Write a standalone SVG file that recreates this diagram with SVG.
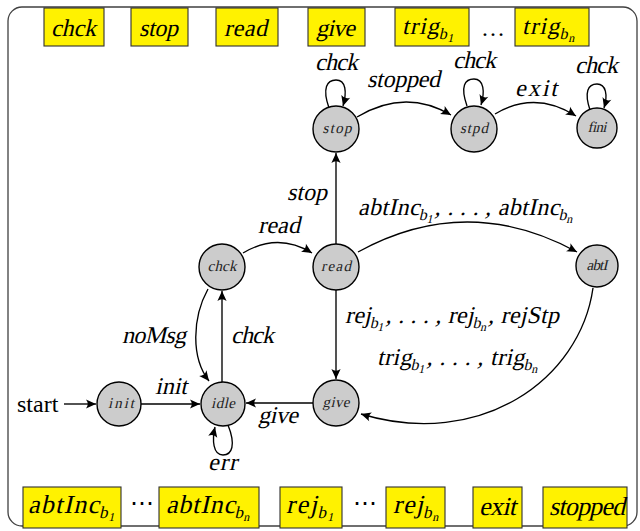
<svg xmlns="http://www.w3.org/2000/svg" width="640" height="531" viewBox="0 0 640 531">
  <style>
    .frame { fill: #ffffff; stroke: #404040; stroke-width: 1.3; }
    .box { fill: #fff200; stroke: #303030; stroke-width: 1.1; }
    .state { fill: #cccccc; stroke: #000000; stroke-width: 1.4; }
    .edge { fill: none; stroke: #000000; stroke-width: 1.35; }
    /* slanted serif labels: upright face sheared by the transform on each label */
    .lbl { font-family: 'Liberation Serif', 'Times New Roman', serif; font-size: 24px; fill: #000000; }
    .blbl { font-family: 'Liberation Serif', 'Times New Roman', serif; font-size: 24px; fill: #000000; }
    .dlbl { font-family: 'Liberation Serif', 'Times New Roman', serif; font-size: 26px; fill: #000000; }
    .nlbl { font-family: 'Liberation Serif', 'Times New Roman', serif; font-size: 15px; fill: #222222; text-anchor: middle; }
    .sub { font-size: 16px; }
    .sub2 { font-size: 12px; }
    .dsub { font-size: 17px; }
  </style>
  <defs>
    <marker id="arrow" markerUnits="userSpaceOnUse" markerWidth="14" markerHeight="12" refX="0" refY="0" viewBox="-11 -6 14 12" orient="auto">
      <path d="M0,0 L-10,-4.6 Q-6.5,0 -10,4.6 Z" fill="#000000"/>
    </marker>
  </defs>

  <!-- outer frame -->
  <rect class="frame" x="8" y="7" width="629" height="519" rx="14" ry="14"/>

  <!-- top message boxes -->
  <g id="top-boxes">
    <rect class="box" x="44" y="8" width="60" height="38"/>
    <text class="blbl" transform="translate(51,36) skewX(-13)" textLength="45" lengthAdjust="spacing">chck</text>
    <rect class="box" x="131" y="8" width="57" height="38"/>
    <text class="blbl" transform="translate(139,36) skewX(-13)" textLength="39" lengthAdjust="spacing">stop</text>
    <rect class="box" x="216" y="8" width="62" height="38"/>
    <text class="blbl" transform="translate(224,36) skewX(-13)" textLength="43" lengthAdjust="spacing">read</text>
    <rect class="box" x="308" y="8" width="57" height="38"/>
    <text class="blbl" transform="translate(316,36) skewX(-13)" textLength="39" lengthAdjust="spacing">give</text>
    <rect class="box" x="395" y="8" width="74" height="38"/>
    <text class="blbl" transform="translate(402,34) skewX(-13)" textLength="53" lengthAdjust="spacing">trig<tspan class="sub" dy="5">b</tspan><tspan class="sub2" dy="3">1</tspan></text>
    <text class="blbl" x="481" y="36">…</text>
    <rect class="box" x="515" y="8" width="74" height="38"/>
    <text class="blbl" transform="translate(522,34) skewX(-13)" textLength="54" lengthAdjust="spacing">trig<tspan class="sub" dy="5">b</tspan><tspan class="sub2" dy="3">n</tspan></text>
  </g>

  <!-- bottom message boxes -->
  <g id="bottom-boxes">
    <rect class="box" x="23" y="487" width="98" height="41"/>
    <text class="dlbl" transform="translate(28,513) skewX(-13)" textLength="88" lengthAdjust="spacing">abtInc<tspan class="dsub" dy="5">b</tspan><tspan class="sub2" dy="3">1</tspan></text>
    <text class="blbl" x="130" y="511">⋯</text>
    <rect class="box" x="159" y="487" width="100" height="41"/>
    <text class="dlbl" transform="translate(166,513) skewX(-13)" textLength="85" lengthAdjust="spacing">abtInc<tspan class="dsub" dy="5">b</tspan><tspan class="sub2" dy="3">n</tspan></text>
    <rect class="box" x="280" y="487" width="62" height="41"/>
    <text class="dlbl" transform="translate(286,513) skewX(-13)" textLength="49" lengthAdjust="spacing">rej<tspan class="dsub" dy="5">b</tspan><tspan class="sub2" dy="3">1</tspan></text>
    <text class="blbl" x="353" y="511">⋯</text>
    <rect class="box" x="386" y="487" width="59" height="41"/>
    <text class="dlbl" transform="translate(393,513) skewX(-13)" textLength="47" lengthAdjust="spacing">rej<tspan class="dsub" dy="5">b</tspan><tspan class="sub2" dy="3">n</tspan></text>
    <rect class="box" x="473" y="487" width="49" height="41"/>
    <text class="dlbl" transform="translate(479,515) skewX(-13)" textLength="37" lengthAdjust="spacing">exit</text>
    <rect class="box" x="543" y="487" width="84" height="41"/>
    <text class="dlbl" transform="translate(549,515) skewX(-13)" textLength="76" lengthAdjust="spacing">stopped</text>
  </g>

  <!-- transitions -->
  <g id="edges">
    <path class="edge" d="M64,404 L96,404" marker-end="url(#arrow)"/>
    <path class="edge" d="M141,404 L200,404" marker-end="url(#arrow)"/>
    <path class="edge" d="M222,382 L222,291" marker-end="url(#arrow)"/>
    <path class="edge" d="M208,289 C192,318 191,358 209,381" marker-end="url(#arrow)"/>
    <path class="edge" d="M243,253 Q278,232 312,253" marker-end="url(#arrow)"/>
    <path class="edge" d="M336,244 L336,153" marker-end="url(#arrow)"/>
    <path class="edge" d="M336,290 L336,379" marker-end="url(#arrow)"/>
    <path class="edge" d="M358,252 Q467,192 577,252" marker-end="url(#arrow)"/>
    <path class="edge" d="M593,288 C580,380 480,450 361,414" marker-end="url(#arrow)"/>
    <path class="edge" d="M313,403 L246,403" marker-end="url(#arrow)"/>
    <path class="edge" d="M228,425 C236,445 232,455 223,455 C213,455 212,440 215,427" marker-end="url(#arrow)"/>
    <path class="edge" d="M329,108 C322,88 327,80 336,80 C346,80 347,92 343,106" marker-end="url(#arrow)"/>
    <path class="edge" d="M357,117 Q405,88 451,115" marker-end="url(#arrow)"/>
    <path class="edge" d="M467,106 C460,86 465,79 474,79 C484,79 485,92 481,105" marker-end="url(#arrow)"/>
    <path class="edge" d="M495,114 Q535,90 576,116" marker-end="url(#arrow)"/>
    <path class="edge" d="M590,110 C584,92 588,84 597,84 C606,84 608,95 604,108" marker-end="url(#arrow)"/>
  </g>

  <!-- transition labels -->
  <g id="edge-labels">
    <text class="lbl" x="17" y="412">start</text>
    <text class="lbl" transform="translate(155,394) skewX(-13)" textLength="32" lengthAdjust="spacing">init</text>
    <text class="lbl" transform="translate(231,343) skewX(-13)" textLength="43" lengthAdjust="spacing">chck</text>
    <text class="lbl" transform="translate(122,343) skewX(-13)" textLength="64" lengthAdjust="spacing">noMsg</text>
    <text class="lbl" transform="translate(258,233) skewX(-13)" textLength="42" lengthAdjust="spacing">read</text>
    <text class="lbl" transform="translate(287,200) skewX(-13)" textLength="40" lengthAdjust="spacing">stop</text>
    <text class="lbl" transform="translate(367,87) skewX(-13)" textLength="73" lengthAdjust="spacing">stopped</text>
    <text class="lbl" transform="translate(515,96) skewX(-13)" textLength="42" lengthAdjust="spacing">exit</text>
    <text class="lbl" transform="translate(315,70) skewX(-13)" textLength="43" lengthAdjust="spacing">chck</text>
    <text class="lbl" transform="translate(453,68) skewX(-13)" textLength="43" lengthAdjust="spacing">chck</text>
    <text class="lbl" transform="translate(575,73) skewX(-13)" textLength="43" lengthAdjust="spacing">chck</text>
    <text class="lbl" transform="translate(358,215) skewX(-13)" textLength="216" lengthAdjust="spacing">abtInc<tspan class="sub" dy="5">b</tspan><tspan class="sub2" dy="3">1</tspan><tspan dy="-8">, . . . , </tspan>abtInc<tspan class="sub" dy="5">b</tspan><tspan class="sub2" dy="3">n</tspan></text>
    <text class="lbl" transform="translate(345,323) skewX(-13)" textLength="214" lengthAdjust="spacing">rej<tspan class="sub" dy="5">b</tspan><tspan class="sub2" dy="3">1</tspan><tspan dy="-8">, . . . , </tspan>rej<tspan class="sub" dy="5">b</tspan><tspan class="sub2" dy="3">n</tspan><tspan dy="-8">, </tspan>rejStp</text>
    <text class="lbl" transform="translate(377,365) skewX(-13)" textLength="162" lengthAdjust="spacing">trig<tspan class="sub" dy="5">b</tspan><tspan class="sub2" dy="3">1</tspan><tspan dy="-8">, . . . , </tspan>trig<tspan class="sub" dy="5">b</tspan><tspan class="sub2" dy="3">n</tspan></text>
    <text class="lbl" transform="translate(258,423) skewX(-13)" textLength="40" lengthAdjust="spacing">give</text>
    <text class="lbl" transform="translate(208,470) skewX(-13)" textLength="29" lengthAdjust="spacing">err</text>
  </g>

  <!-- states -->
  <g id="init"><circle class="state" cx="119" cy="404" r="22"/><text class="nlbl" transform="translate(121,408) skewX(-13)" textLength="26" lengthAdjust="spacing">init</text></g>
  <g id="idle"><circle class="state" cx="223" cy="404" r="22"/><text class="nlbl" transform="translate(223,408) skewX(-13)" textLength="24" lengthAdjust="spacing">idle</text></g>
  <g id="chck"><circle class="state" cx="222" cy="267" r="23"/><text class="nlbl" transform="translate(222,271) skewX(-13)" textLength="29" lengthAdjust="spacing">chck</text></g>
  <g id="read"><circle class="state" cx="336" cy="267" r="23"/><text class="nlbl" transform="translate(336,271) skewX(-13)" textLength="30" lengthAdjust="spacing">read</text></g>
  <g id="give"><circle class="state" cx="336" cy="403" r="23"/><text class="nlbl" transform="translate(336,407) skewX(-13)" textLength="27" lengthAdjust="spacing">give</text></g>
  <g id="abtI"><circle class="state" cx="597" cy="266" r="21"/><text class="nlbl" transform="translate(597,270) skewX(-13)" textLength="21" lengthAdjust="spacing">abtI</text></g>
  <g id="stop"><circle class="state" cx="336" cy="129" r="23"/><text class="nlbl" transform="translate(337,133) skewX(-13)" textLength="29" lengthAdjust="spacing">stop</text></g>
  <g id="stpd"><circle class="state" cx="474" cy="129" r="23"/><text class="nlbl" transform="translate(474,133) skewX(-13)" textLength="28" lengthAdjust="spacing">stpd</text></g>
  <g id="fini"><circle class="state" cx="597" cy="128" r="20"/><text class="nlbl" transform="translate(597,132) skewX(-13)" textLength="19" lengthAdjust="spacing">fini</text></g>
</svg>
